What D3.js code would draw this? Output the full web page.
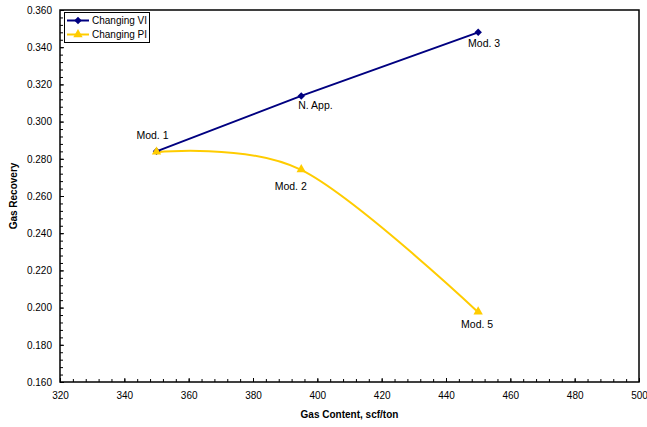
<!DOCTYPE html>
<html>
<head>
<meta charset="utf-8">
<script src="https://cdn.jsdelivr.net/npm/d3@7"></script>
<style>
  html, body { margin: 0; padding: 0; background: #fff; }
  svg { display: block; font-family: "Liberation Sans", Arial, sans-serif; }
</style>
</head>
<body>
<svg id="chart" width="647" height="427"></svg>
<script>
// Gas recovery versus gas content for two sensitivity series
const viContent = [350, 395, 450];
const viRecovery = [0.284, 0.3138, 0.348];
const viLabels = ["Mod. 1", "N. App.", "Mod. 3"];

const piContent = [350, 395, 450];
const piRecovery = [0.2835, 0.274, 0.1975];
const piLabels = ["", "Mod. 2", "Mod. 5"];

const xTicks = [320, 340, 360, 380, 400, 420, 440, 460, 480, 500];
const yTicks = [0.16, 0.18, 0.2, 0.22, 0.24, 0.26, 0.28, 0.3, 0.32, 0.34, 0.36];

const seriesNames = ["Changing VI", "Changing PI"];
const viColor = "#000080";
const piColor = "#FFCC00";

const svg = d3.select("#chart");
const m = { left: 60, right: 639, top: 10, bottom: 382 };

const x = d3.scaleLinear().domain([320, 500]).range([m.left, m.right]);
const y = d3.scaleLinear().domain([0.16, 0.36]).range([m.bottom, m.top]);

// minor ticks (inside the plot area)
const xMinor = d3.range(320, 500.01, 4);
const yMinor = d3.range(0.16, 0.3601, 0.004);

const gx = svg.append("g").attr("transform", `translate(0,${m.bottom})`);
gx.call(d3.axisBottom(x).tickValues(xMinor).tickSize(-3).tickFormat(""));
gx.select(".domain").remove();
gx.selectAll("line").attr("stroke", "#000");

const gxMajor = svg.append("g").attr("transform", `translate(0,${m.bottom})`);
gxMajor.call(d3.axisBottom(x).tickValues(xTicks).tickSizeInner(-4).tickSizeOuter(0).tickPadding(10).tickFormat(d3.format("d")));
gxMajor.select(".domain").remove();
gxMajor.selectAll("line").attr("stroke", "#000");
gxMajor.selectAll("text").attr("font-size", 10).attr("fill", "#000")
  .attr("font-family", "Liberation Sans, Arial, sans-serif");

const gy = svg.append("g").attr("transform", `translate(${m.left},0)`);
gy.call(d3.axisLeft(y).tickValues(yMinor).tickSize(-3).tickFormat(""));
gy.select(".domain").remove();
gy.selectAll("line").attr("stroke", "#000");

const gyMajor = svg.append("g").attr("transform", `translate(${m.left},0)`);
gyMajor.call(d3.axisLeft(y).tickValues(yTicks).tickSizeInner(-4).tickSizeOuter(0).tickPadding(8).tickFormat(d3.format(".3f")));
gyMajor.select(".domain").remove();
gyMajor.selectAll("line").attr("stroke", "#000");
gyMajor.selectAll("text").attr("font-size", 10).attr("fill", "#000")
  .attr("font-family", "Liberation Sans, Arial, sans-serif");

// plot frame
svg.append("rect")
  .attr("x", m.left).attr("y", m.top)
  .attr("width", m.right - m.left).attr("height", m.bottom - m.top)
  .attr("fill", "none").attr("stroke", "#000").attr("stroke-width", 1.5);

// axis titles
svg.append("text")
  .attr("x", (m.left + m.right) / 2).attr("y", 418)
  .attr("text-anchor", "middle").attr("font-size", 10).attr("font-weight", "bold")
  .text("Gas Content, scf/ton");
svg.append("text")
  .attr("transform", `translate(17,${(m.top + m.bottom) / 2}) rotate(-90)`)
  .attr("text-anchor", "middle").attr("font-size", 10).attr("font-weight", "bold")
  .text("Gas Recovery");

const vi = viContent.map((c, i) => ({ c, r: viRecovery[i], label: viLabels[i] }));
const pi = piContent.map((c, i) => ({ c, r: piRecovery[i], label: piLabels[i] }));

// Changing PI: smoothed line with triangle markers
svg.append("path")
  .datum(pi)
  .attr("fill", "none").attr("stroke", piColor).attr("stroke-width", 2)
  .attr("d", d3.line().x(d => x(d.c)).y(d => y(d.r)).curve(d3.curveCardinal.tension(0)));

// Changing VI: straight segments with diamond markers
svg.append("path")
  .datum(vi)
  .attr("fill", "none").attr("stroke", viColor).attr("stroke-width", 2)
  .attr("d", d3.line().x(d => x(d.c)).y(d => y(d.r)));

const diamond = d3.symbol().type(d3.symbolSquare).size(28);
const triangle = d3.symbol().type(d3.symbolTriangle).size(38);

svg.append("g").selectAll("path").data(vi).join("path")
  .attr("d", diamond)
  .attr("transform", d => `translate(${x(d.c)},${y(d.r)}) rotate(45)`)
  .attr("fill", viColor);

svg.append("g").selectAll("path").data(pi).join("path")
  .attr("d", triangle)
  .attr("transform", d => `translate(${x(d.c)},${y(d.r) - 0.5})`)
  .attr("fill", piColor);

// point labels
const labelOffsets = {
  "Mod. 1": [-4, -12, "middle"],
  "N. App.": [-3, 13, "start"],
  "Mod. 3": [6, 14.5, "middle"],
  "Mod. 2": [-10.5, 20, "middle"],
  "Mod. 5": [-1, 15.5, "middle"]
};
const labelled = vi.concat(pi).filter(d => d.label);
svg.append("g").selectAll("text").data(labelled).join("text")
  .attr("x", d => x(d.c) + labelOffsets[d.label][0])
  .attr("y", d => y(d.r) + labelOffsets[d.label][1])
  .attr("text-anchor", d => labelOffsets[d.label][2])
  .attr("font-size", 10.5).attr("fill", "#000")
  .text(d => d.label);

// legend
const lg = svg.append("g");
lg.append("rect")
  .attr("x", 64.5).attr("y", 12.5).attr("width", 85).attr("height", 30)
  .attr("fill", "#fff").attr("stroke", "#000").attr("stroke-width", 1);
const legendItems = [
  { name: seriesNames[0], color: viColor, sym: diamond, rot: 45 },
  { name: seriesNames[1], color: piColor, sym: triangle, rot: 0 }
];
legendItems.forEach((it, i) => {
  const yy = 20.5 + i * 14;
  lg.append("line").attr("x1", 67).attr("x2", 89).attr("y1", yy).attr("y2", yy)
    .attr("stroke", it.color).attr("stroke-width", 2);
  lg.append("path").attr("d", it.sym)
    .attr("transform", `translate(78,${yy}) rotate(${it.rot})`)
    .attr("fill", it.color);
  lg.append("text").attr("x", 92).attr("y", yy + 3.5)
    .attr("font-size", 10).attr("fill", "#000").text(it.name);
});
</script>
</body>
</html>
